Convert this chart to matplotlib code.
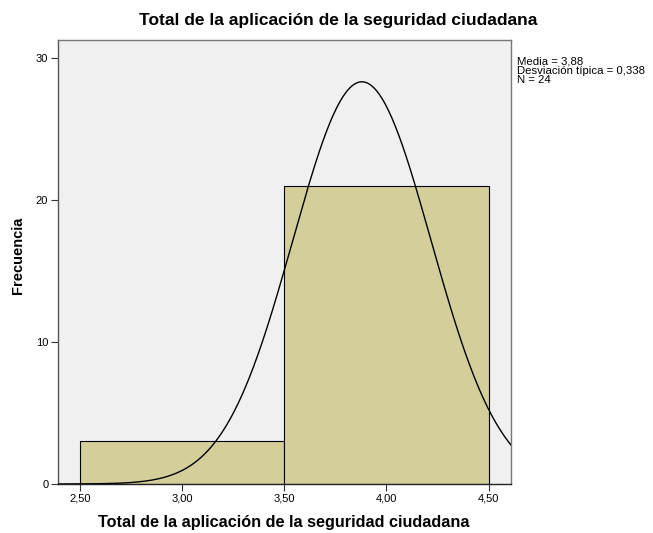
import numpy as np
import matplotlib.pyplot as plt

plt.rcParams['font.family'] = ['Liberation Sans', 'DejaVu Sans']

# Histogram data
bin_edges = [2.5, 3.5, 4.5]
counts = [3, 21]
media = 3.88
desv = 0.338
n = 24

x_ticks = [2.5, 3.0, 3.5, 4.0, 4.5]
x_labels = ['2,50', '3,00', '3,50', '4,00', '4,50']
y_ticks = [0, 10, 20, 30]

W, H = 653, 533
fig = plt.figure(figsize=(W / 100, H / 100), dpi=100)
ax = fig.add_axes([58 / W, 1 - 484 / H, (511 - 58) / W, (484 - 40) / H])
ax.set_facecolor('#F0F0F0')

# Bars
widths = np.diff(bin_edges)
ax.bar(bin_edges[:-1], counts, width=widths, align='edge',
       color='#D3CE9A', edgecolor='black', linewidth=0.8, zorder=2)

# Normal curve
bw = widths[0]
xs = np.linspace(2.392, 4.61, 400)
ys = n * bw / (desv * np.sqrt(2 * np.pi)) * np.exp(-0.5 * ((xs - media) / desv) ** 2)
ax.plot(xs, ys, color='black', linewidth=1.0, zorder=3)

ax.set_xlim(2.392, 4.61)
ax.set_ylim(0, 31.27)
ax.set_xticks(x_ticks)
ax.set_xticklabels(x_labels)
ax.set_yticks(y_ticks)
ax.tick_params(axis='both', labelsize=8, length=5, width=0.8, color='#333333', pad=2)

for s in ['top', 'right', 'left']:
    ax.spines[s].set_color('#777777')
    ax.spines[s].set_linewidth(1.0)
ax.spines['bottom'].set_color('#222222')
ax.spines['bottom'].set_linewidth(1.0)
ax.spines['left'].set_color('#555555')

# Titles
fig.text(338 / W, 1 - 20 / H, 'Total de la aplicación de la seguridad ciudadana',
         fontsize=12.5, fontweight='bold', ha='center', va='center')
fig.text(284 / W, 1 - 522 / H, 'Total de la aplicación de la seguridad ciudadana',
         fontsize=11.7, fontweight='bold', ha='center', va='center')
fig.text(18 / W, 1 - 255 / H, 'Frecuencia', fontsize=10.5, fontweight='bold',
         rotation=90, ha='center', va='center')

stats = 'Media = 3,88\nDesviación típica = 0,338\nN = 24'
fig.text(517 / W, 1 - 57 / H, stats, fontsize=8.2, va='top', ha='left',
         linespacing=0.9)

fig.savefig('out.png', dpi=100)
